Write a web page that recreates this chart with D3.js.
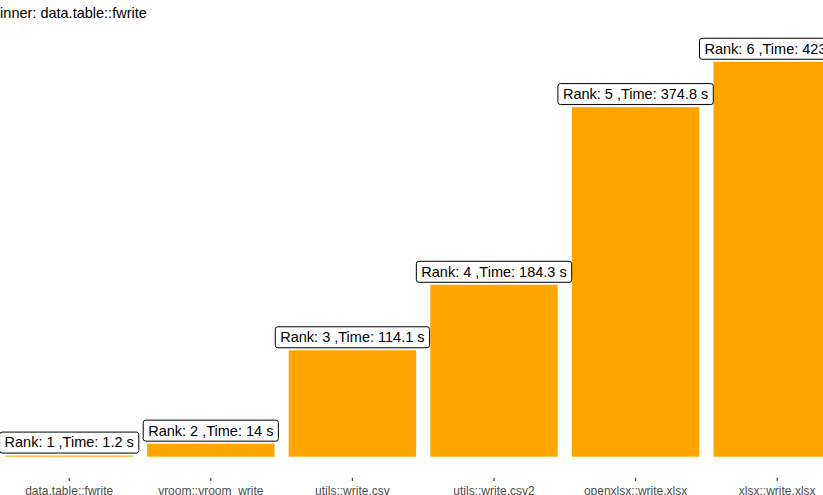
<!DOCTYPE html>
<html>
<head>
<meta charset="utf-8">
<script src="https://d3js.org/d3.v7.min.js"></script>
<style>
  body { margin: 0; background: #fff; }
  svg { display: block; font-family: "Liberation Sans", Arial, sans-serif; }
</style>
</head>
<body>
<div id="chart"></div>
<script>
  // data
  var packages = ["data.table::fwrite", "vroom::vroom_write", "utils::write.csv",
                  "utils::write.csv2", "openxlsx::write.xlsx", "xlsx::write.xlsx"];
  var times = [1.2, 14, 114.1, 184.3, 374.8, 423.4];
  var ranks = [1, 2, 3, 4, 5, 6];
  var title = "Winner: data.table::fwrite";

  var W = 823, H = 495;

  var svg = d3.select("#chart")
    .append("svg")
      .attr("width", W)
      .attr("height", H);

  // title (left part falls outside the frame, as in the original)
  svg.append("text")
    .attr("x", -13.6)
    .attr("y", 17.5)
    .attr("font-size", "14.5px")
    .attr("fill", "#000")
    .text(title);

  var step = 141.6, c0 = 69.2;
  var x = d3.scaleBand()
    .domain(packages)
    .range([c0 - step / 2, c0 + 5 * step + step / 2])
    .paddingInner(0.1)
    .paddingOuter(0.05);

  var y = d3.scaleLinear()
    .domain([0, 450])
    .range([456.7, 456.7 - 450 * 0.9328]);

  var data = packages.map(function(p, i) {
    return {pkg: p, time: times[i], rank: ranks[i]};
  });

  // bars
  svg.append("g")
    .selectAll("rect")
    .data(data)
    .enter()
    .append("rect")
      .attr("x", function(d) { return x(d.pkg); })
      .attr("width", x.bandwidth())
      .attr("y", function(d) { return y(d.time); })
      .attr("height", function(d) { return y(0) - y(d.time); })
      .attr("fill", "#FFA500");

  // x axis
  var x_axis = d3.axisBottom(x).tickSize(3.3).tickPadding(4);
  var gx = svg.append("g")
    .attr("transform", "translate(0,477.7)")
    .call(x_axis);
  gx.select(".domain").remove();
  gx.selectAll(".tick line").attr("stroke", "#333333").attr("stroke-width", 1.1);
  gx.selectAll(".tick text")
    .attr("dy", null)
    .attr("y", 17.8)
    .attr("font-size", "12px")
    .attr("font-family", "Liberation Sans, Arial, sans-serif")
    .attr("fill", "#4D4D4D");

  // labels
  var labels = svg.append("g")
    .selectAll("g")
    .data(data)
    .enter()
    .append("g");

  labels.append("text")
    .attr("class", "lab")
    .attr("x", function(d) { return x(d.pkg) + x.bandwidth() / 2; })
    .attr("y", function(d) { return y(d.time) - 2.5 - 5.6; })
    .attr("text-anchor", "middle")
    .attr("font-size", "14.5px")
    .attr("fill", "#000")
    .text(function(d) { return "Rank: " + d.rank + " ,Time: " + d.time + " s"; });

  labels.each(function(d) {
    var g = d3.select(this);
    var bb = g.select("text").node().getBBox();
    var bottom = y(d.time) - 2.5;
    g.insert("rect", "text")
      .attr("x", bb.x - 5)
      .attr("width", bb.width + 10)
      .attr("y", bottom - 21)
      .attr("height", 21)
      .attr("rx", 2.5)
      .attr("fill", "#fff")
      .attr("stroke", "#000")
      .attr("stroke-width", 1);
  });
</script>
</body>
</html>
